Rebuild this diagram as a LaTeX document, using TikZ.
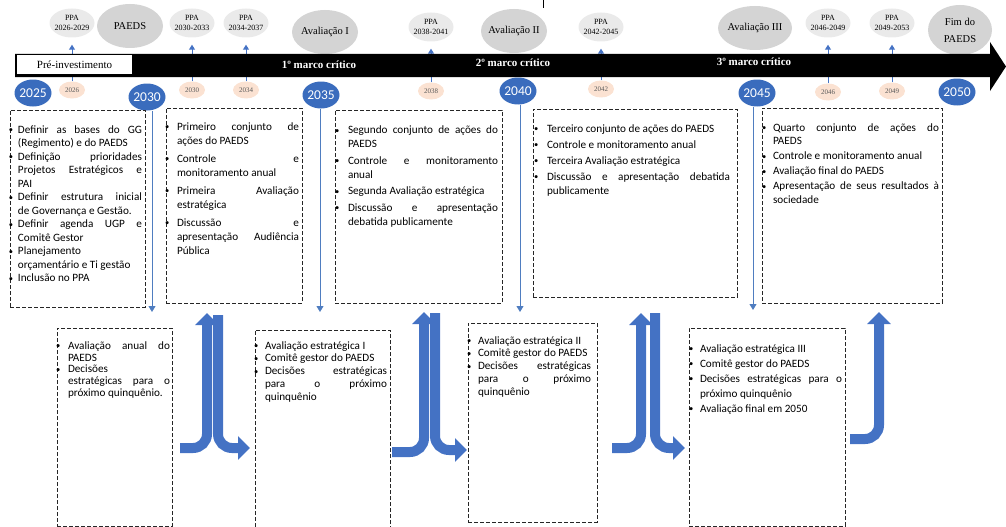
\documentclass[tikz,border=0pt]{standalone}
\usepackage{fontspec}
\setmainfont{Liberation Serif}
\newfontfamily\calib{Carlito}
\usetikzlibrary{arrows.meta,shapes.geometric}

\definecolor{arrowblue}{HTML}{4472C4}
\definecolor{yearblue}{HTML}{3A6CBD}
\definecolor{linkblue}{HTML}{4F7DC0}
\definecolor{peach}{HTML}{FBE2D2}
\definecolor{ellgray}{HTML}{D4D4D4}
\definecolor{ppagray}{HTML}{EAEAEA}

% bulleted, justified lists inside the dashed boxes
\newlength\bw
\newlength\igap
\newcommand\boxsetup[3]{\setlength\bw{#1}\setlength\igap{#2}%
  \fontsize{11.2}{#3}\selectfont\everypar{}%
  \hyphenpenalty=10000 \exhyphenpenalty=10000
  \tolerance=10000 \hbadness=10000 \lineskiplimit=-20pt
  \parindent=0pt\relax}
\newcommand\bulmark{\raisebox{0.3pt}{\fontsize{8.5}{8.5}\selectfont\textbullet}}
\newcommand\bitem{\par\noindent\leftskip=\bw\rightskip=0pt
  \parfillskip=0pt plus 1fil\relax
  \llap{\makebox[\bw][l]{\bulmark}}\rule{0pt}{9pt}}
\newcommand\nbitem{\par\vspace{\igap}\bitem}

\tikzset{
  ppa/.style={ellipse, fill=ppagray, minimum width=45pt, minimum height=29pt,
    inner xsep=-6pt, inner ysep=-2pt, align=center,
    font=\fontsize{8}{10.5}\selectfont},
  milestone/.style={ellipse, fill=ellgray, minimum width=66pt, minimum height=44pt,
    inner xsep=-10pt, inner ysep=-4pt, align=center,
    font=\fontsize{10.5}{17}\selectfont},
  year/.style={ellipse, fill=yearblue, text=white, minimum width=37pt,
    minimum height=27pt, inner sep=-1pt, font=\calib\fontsize{13.5}{14}\selectfont},
  minor/.style={ellipse, fill=peach, text=black!65, minimum width=26pt,
    minimum height=17pt, inner sep=0pt, font=\fontsize{7}{7}\selectfont},
  marco/.style={text=white, inner sep=0pt, font=\bfseries\fontsize{11}{12}\selectfont},
  dbox/.style={draw=black!85, line width=1pt, dash pattern=on 4pt off 2pt,
    anchor=north west, inner sep=0pt, outer sep=0pt},
  txt/.style={anchor=north west, inner sep=0pt, outer sep=0pt, align=justify,
    font=\calib},
  ppalink/.style={draw=arrowblue, line width=1pt, shorten >=7pt,
    -{Triangle[width=6pt,length=5pt]}},
  yearlink/.style={draw=linkblue, line width=1pt,
    -{Triangle[width=7pt,length=6pt]}},
  bigarrow/.style={draw=arrowblue, line width=10pt, rounded corners=14pt,
    -{Triangle[width=23pt,length=12pt]}},
}

\begin{document}
\begin{tikzpicture}[x=1pt,y=-1pt]
\useasboundingbox (0,0) rectangle (1006,527);
\clip (0,0) rectangle (1006,527);

% stray tick at the top edge
\draw[line width=0.8pt] (543,0) -- (543,8);

% ---- milestones and PPA cycles above the time line ----
\node[ppa] (p1) at (72,23) {PPA\\2026-2029};
\node[milestone] (m1) at (130,26) {PAEDS};
\node[ppa] (p2) at (192,23) {PPA\\2030-2033};
\node[ppa] (p3) at (246,23) {PPA\\2034-2037};
\node[milestone] (m2) at (325,32) {Avaliação I};
\node[ppa] (p4) at (431,27) {PPA\\2038-2041};
\node[milestone] (m3) at (514,31) {Avaliação II};
\node[ppa] (p5) at (601,27) {PPA\\2042-2045};
\node[milestone, minimum width=74pt] (m4) at (755,28) {Avaliação III};
\node[ppa] (p6) at (828,23) {PPA\\2046-2049};
\node[ppa] (p7) at (892,23) {PPA\\2049-2053};
\node[milestone, minimum width=64pt, minimum height=50pt] (m5) at (960,30) {Fim do\\PAEDS};

% ---- years below the time line ----
\node[minor] (o1) at (72,90) {2026};
\node[minor] (o2) at (192,90) {2030};
\node[minor] (o3) at (246,90) {2034};
\node[minor] (o4) at (431,91) {2038};
\node[minor] (o5) at (601,89) {2042};
\node[minor] (o6) at (828,92) {2046};
\node[minor] (o7) at (892,91) {2049};

\node[year] (y25) at (33,93) {2025};
\node[year] (y30) at (147,97) {2030};
\node[year] (y35) at (321,95) {2035};
\node[year] (y40) at (518,91) {2040};
\node[year] (y45) at (757,93) {2045};
\node[year] (y50) at (957,92) {2050};

% PPA links (partly hidden by the time line)
\draw[ppalink] (o1.north) -- (p1.south);
\draw[ppalink] (o2.north) -- (p2.south);
\draw[ppalink] (o3.north) -- (p3.south);
\draw[ppalink] (o4.north) -- (p4.south);
\draw[ppalink] (o5.north) -- (p5.south);
\draw[ppalink] (o6.north) -- (p6.south);
\draw[ppalink] (o7.north) -- (p7.south);

% ---- the time line ----
\fill[black] (15,54) -- (990,54) -- (990,42) -- (1006,66.5) -- (990,91)
  -- (990,77) -- (15,77) -- cycle;
\node[fill=white, minimum width=115pt, minimum height=19pt, inner sep=0pt,
  font=\fontsize{11}{12}\selectfont] (pre) at (74.5,64.5) {Pré-investimento};
\node[marco] (k1) at (319,65) {1º marco crítico};
\node[marco] (k2) at (513,63) {2º marco crítico};
\node[marco] (k3) at (754,62) {3º marco crítico};

% ---- upper action boxes ----
\node[dbox, minimum width=135pt, minimum height=197pt] (b1) at (10,110) {};
\node[dbox, minimum width=136pt, minimum height=195pt] (b2) at (166,108) {};
\node[dbox, minimum width=167pt, minimum height=193pt] (b3) at (335,110) {};
\node[dbox, minimum width=204pt, minimum height=188pt] (b4) at (533,109) {};
\node[dbox, minimum width=180pt, minimum height=195pt] (b5) at (762,108) {};

\node[txt, text width=133pt] (t1) at (9,119.5) {\boxsetup{9pt}{0pt}{13.5pt}%
\bitem Definir as bases do GG\linebreak (Regimento) e do PAEDS
\nbitem Definição prioridades\linebreak Projetos Estratégicos e\linebreak PAI
\nbitem Definir estrutura inicial\linebreak de Governança e Gestão.
\nbitem Definir agenda UGP e\linebreak Comitê Gestor
\nbitem Planejamento\newline orçamentário e Ti gestão
\nbitem Inclusão no PPA\par};

\node[txt, text width=134pt] (t2) at (165,116) {\boxsetup{12pt}{4pt}{14pt}%
\bitem Primeiro conjunto de\linebreak ações do PAEDS
\nbitem Controle e\linebreak monitoramento anual
\nbitem Primeira Avaliação\linebreak estratégica
\nbitem Discussão e\linebreak apresentação Audiência\linebreak Pública\par};

\node[txt, text width=163pt] (t3) at (335,119.5) {\boxsetup{13pt}{2.5pt}{14pt}%
\bitem Segundo conjunto de ações do\linebreak PAEDS
\nbitem Controle e monitoramento\linebreak anual
\nbitem Segunda Avaliação estratégica
\nbitem Discussão e apresentação\linebreak debatida publicamente\par};

\node[txt, text width=196pt] (t4) at (534,117.5) {\boxsetup{13pt}{1.5pt}{14.5pt}%
\bitem Terceiro conjunto de ações do PAEDS
\nbitem Controle e monitoramento anual
\nbitem Terceira Avaliação estratégica
\nbitem Discussão e apresentação debatida\linebreak publicamente\par};

\node[txt, text width=177pt] (t5) at (762,117.5) {\boxsetup{11pt}{1.5pt}{13.5pt}%
\bitem Quarto conjunto de ações do\linebreak PAEDS
\nbitem Controle e monitoramento anual
\nbitem Avaliação final do PAEDS
\nbitem Apresentação de seus resultados à\linebreak sociedade\par};

% ---- links from the milestone years down to the lower boxes ----
\coordinate (d30) at (152,312);
\coordinate (d35) at (320,312);
\coordinate (d40) at (520,312);
\coordinate (d45) at (753,310);
\draw[yearlink] (y30.south -| d30) -- (d30);
\draw[yearlink] (y35.south -| d35) -- (d35);
\draw[yearlink] (y40.south -| d40) -- (d40);
\draw[yearlink] (y45.south -| d45) -- (d45);

% ---- lower evaluation boxes ----
\node[dbox, minimum width=115pt, minimum height=198pt] (c1) at (57,328) {};
\node[dbox, minimum width=135pt, minimum height=215pt] (c2) at (255,330) {};
\node[dbox, minimum width=129pt, minimum height=199pt] (c3) at (468,323) {};
\node[dbox, minimum width=156pt, minimum height=198pt] (c4) at (689,328) {};

\node[txt, text width=114pt] (u1) at (56,337.5) {\boxsetup{12pt}{0pt}{11.75pt}%
\bitem Avaliação anual do\linebreak PAEDS
\nbitem Decisões\newline estratégicas para o\linebreak próximo quinquênio.\par};

\node[txt, text width=133pt] (u2) at (254,336.2) {\boxsetup{11pt}{0pt}{12.8pt}%
\bitem Avaliação estratégica I
\nbitem Comitê gestor do PAEDS
\nbitem Decisões estratégicas\linebreak para o próximo\linebreak quinquênio\par};

\node[txt, text width=124pt] (u3) at (467,331.2) {\boxsetup{11pt}{0pt}{12.8pt}%
\bitem Avaliação estratégica II
\nbitem Comitê gestor do PAEDS
\nbitem Decisões estratégicas\linebreak para o próximo\linebreak quinquênio\par};

\node[txt, text width=153pt] (u4) at (689,337.2) {\boxsetup{11pt}{0pt}{15pt}%
\bitem Avaliação estratégica III
\nbitem Comitê gestor do PAEDS
\nbitem Decisões estratégicas para o\linebreak próximo quinquênio
\nbitem Avaliação final em 2050\par};

% ---- feedback arrows between the two rows ----
\coordinate (a1s) at (180,448); \coordinate (a1e) at (207,313);
\coordinate (a2s) at (218,315); \coordinate (a2e) at (250,448);
\coordinate (a3s) at (392,452); \coordinate (a3e) at (424,312);
\coordinate (a4s) at (435,313); \coordinate (a4e) at (467,450);
\coordinate (a5s) at (612,448); \coordinate (a5e) at (641,313);
\coordinate (a6s) at (655,313); \coordinate (a6e) at (685,448);
\coordinate (a7s) at (850,439); \coordinate (a7e) at (879,312);
\draw[bigarrow] (a1s) -| (a1e);
\draw[bigarrow] (a2s) |- (a2e);
\draw[bigarrow] (a3s) -| (a3e);
\draw[bigarrow] (a4s) |- (a4e);
\draw[bigarrow] (a5s) -| (a5e);
\draw[bigarrow] (a6s) |- (a6e);
\draw[bigarrow] (a7s) -| (a7e);
\end{tikzpicture}
\end{document}
